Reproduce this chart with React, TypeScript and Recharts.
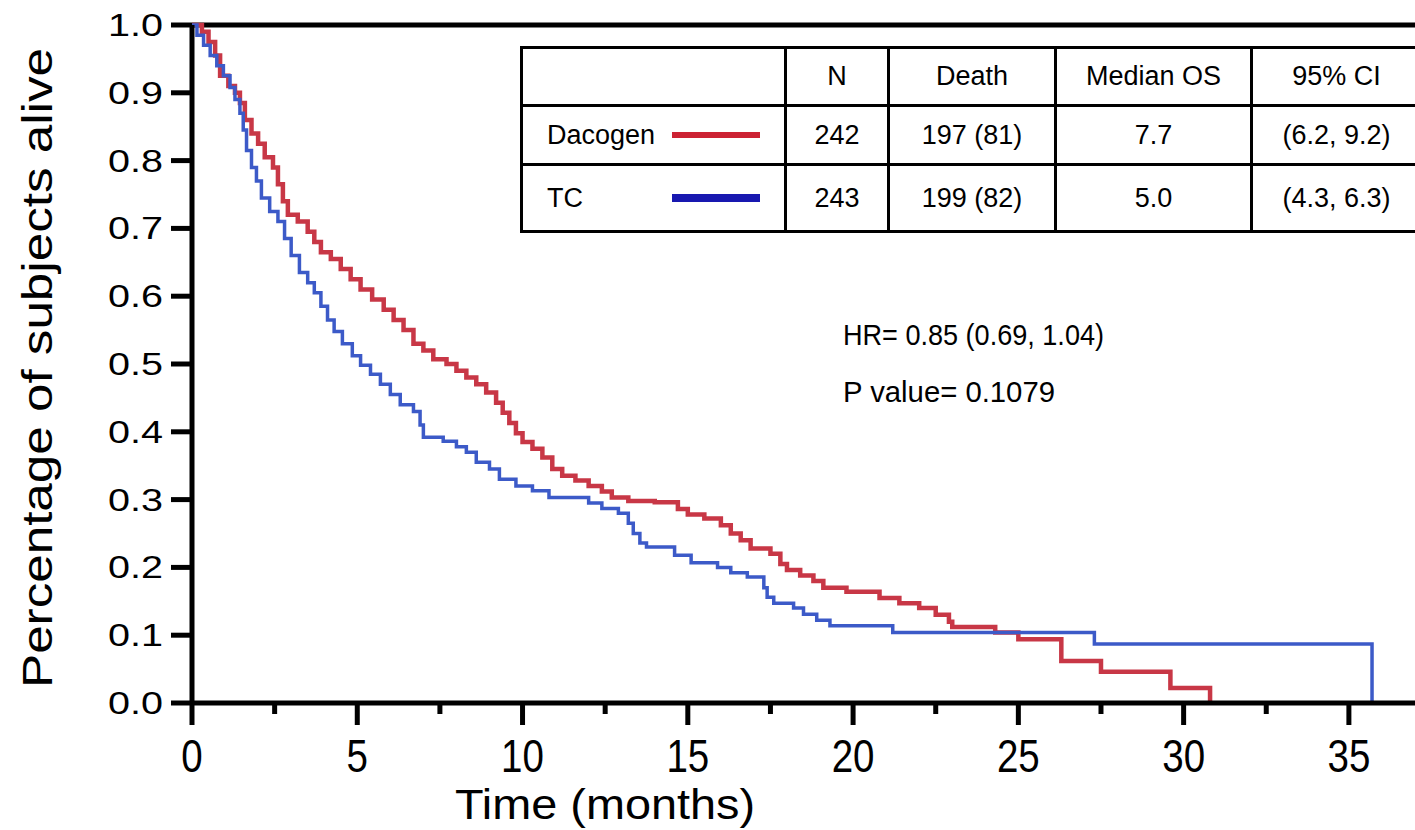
import React from 'react';
import { LineChart, Line, XAxis, YAxis, ReferenceLine } from 'recharts';

// Kaplan-Meier steps (months, fraction alive)
const dacogenTime = [0, 0.3, 0.5, 0.7, 0.85, 1.1, 1.3, 1.45, 1.6, 1.8, 2.0, 2.2, 2.45, 2.6, 2.75, 2.9, 3.2, 3.5, 3.7, 3.9, 4.2, 4.5, 4.8, 5.1, 5.45, 5.8, 6.1, 6.4, 6.7, 7.0, 7.3, 7.7, 8.0, 8.3, 8.6, 8.9, 9.2, 9.4, 9.6, 9.8, 10.0, 10.3, 10.6, 10.9, 11.2, 11.6, 12.0, 12.4, 12.7, 13.2, 14.0, 14.7, 15.0, 15.5, 16.0, 16.3, 16.6, 16.9, 17.5, 17.8, 18.0, 18.4, 18.8, 19.1, 19.8, 20.8, 21.4, 22.0, 22.5, 22.9, 23.0, 24.3, 25.0, 26.3, 27.5, 29.6, 30.8];
const dacogenSurv = [1.0, 0.99, 0.975, 0.955, 0.925, 0.91, 0.9, 0.885, 0.86, 0.84, 0.825, 0.805, 0.79, 0.765, 0.74, 0.72, 0.71, 0.695, 0.68, 0.665, 0.655, 0.64, 0.625, 0.61, 0.595, 0.58, 0.565, 0.55, 0.53, 0.52, 0.507, 0.5, 0.49, 0.48, 0.47, 0.458, 0.443, 0.428, 0.413, 0.398, 0.385, 0.375, 0.362, 0.345, 0.335, 0.328, 0.32, 0.312, 0.303, 0.298, 0.296, 0.286, 0.278, 0.272, 0.262, 0.25, 0.24, 0.228, 0.22, 0.205, 0.196, 0.188, 0.18, 0.17, 0.164, 0.155, 0.147, 0.14, 0.13, 0.12, 0.112, 0.104, 0.094, 0.062, 0.046, 0.022, 0.0];

const tcTime = [0, 0.15, 0.35, 0.55, 0.75, 0.95, 1.15, 1.3, 1.45, 1.55, 1.65, 1.8, 1.95, 2.1, 2.35, 2.6, 2.8, 3.0, 3.25, 3.5, 3.7, 3.9, 4.1, 4.3, 4.55, 4.85, 5.1, 5.4, 5.7, 6.0, 6.3, 6.7, 6.9, 7.0, 7.6, 8.0, 8.3, 8.6, 9.0, 9.3, 9.8, 10.3, 10.8, 12.0, 12.4, 12.9, 13.2, 13.35, 13.55, 13.75, 14.6, 15.1, 15.9, 16.3, 16.8, 17.3, 17.4, 17.6, 18.2, 18.5, 18.9, 19.3, 21.2, 27.3, 35.7];
const tcSurv = [1.0, 0.985, 0.97, 0.955, 0.94, 0.925, 0.908, 0.89, 0.87, 0.845, 0.815, 0.79, 0.77, 0.745, 0.725, 0.71, 0.685, 0.66, 0.635, 0.62, 0.605, 0.585, 0.565, 0.548, 0.53, 0.512, 0.498, 0.485, 0.47, 0.455, 0.44, 0.43, 0.41, 0.392, 0.386, 0.378, 0.37, 0.355, 0.345, 0.33, 0.32, 0.313, 0.303, 0.295, 0.287, 0.28, 0.265, 0.25, 0.236, 0.23, 0.218, 0.207, 0.2, 0.192, 0.186, 0.17, 0.156, 0.147, 0.14, 0.131, 0.122, 0.114, 0.104, 0.087, 0.0];

const xTicks = [0, 2.5, 5, 7.5, 10, 12.5, 15, 17.5, 20, 22.5, 25, 27.5, 30, 32.5, 35];
const yTicks = [0, 0.1, 0.2, 0.3, 0.4, 0.5, 0.6, 0.7, 0.8, 0.9, 1.0];

// summary table
const tableHeader = ['', 'N', 'Death', 'Median OS', '95% CI'];
const groups = ['Dacogen', 'TC'];
const subjects = ['242', '243'];
const deaths = ['197 (81)', '199 (82)'];
const medianOS = ['7.7', '5.0'];
const ci95 = ['(6.2, 9.2)', '(4.3, 6.3)'];
const groupColors = ['#cc2233', '#1818b0'];

const RED = '#c83746';
const BLUE = '#3c5ac8';
const FONT = '"Liberation Sans", Arial, sans-serif';

const dacogenData = dacogenTime.map((t, i) => ({ t, s: dacogenSurv[i] }));
const tcData = tcTime.map((t, i) => ({ t, s: tcSurv[i] }));

const XTick = (props: any) => {
  const { x, y, payload } = props;
  const major = payload.value % 5 === 0;
  return (
    <g>
      <line x1={x} x2={x} y1={y} y2={y + (major ? 22 : 11)} stroke="#000" strokeWidth={5} />
      {major && (
        <text transform={`translate(${x},${y + 69}) scale(0.82,1)`} textAnchor="middle" fontSize={47} fontFamily={FONT} fill="#000">
          {payload.value}
        </text>
      )}
    </g>
  );
};

const YTick = (props: any) => {
  const { x, y, payload } = props;
  return (
    <g>
      <line x1={x - 21} x2={x} y1={y} y2={y} stroke="#000" strokeWidth={5} />
      <text x={x - 29} y={y + 11} textAnchor="end" fontSize={31} fontFamily={FONT} fill="#000" textLength={55} lengthAdjust="spacingAndGlyphs">
        {payload.value.toFixed(1)}
      </text>
    </g>
  );
};

const cell: React.CSSProperties = { border: '3px solid #000', textAlign: 'center', padding: 0 };
const rowHeights = [58, 59, 67];
const colWidths = [264, 103, 167, 196, 170];

const App: React.FC = () => {
  const rows = groups.map((g, i) => [g, subjects[i], deaths[i], medianOS[i], ci95[i]]);
  return (
    <div style={{ position: 'absolute', left: 0, top: 0, width: 1415, height: 830, overflow: 'hidden', background: '#fff', fontFamily: FONT }}>
      <LineChart width={1415} height={830} margin={{ top: 25, right: 0, bottom: 0, left: 0 }}>
        <XAxis
          type="number"
          dataKey="t"
          domain={[0, 37]}
          ticks={xTicks}
          interval={0}
          allowDataOverflow
          height={127}
          tick={<XTick />}
          tickLine={false}
          tickSize={0}
          tickMargin={0}
          axisLine={{ stroke: '#000', strokeWidth: 5 }}
        />
        <YAxis
          type="number"
          domain={[0, 1]}
          ticks={yTicks}
          interval={0}
          width={192}
          tick={<YTick />}
          tickLine={false}
          tickSize={0}
          tickMargin={0}
          axisLine={{ stroke: '#000', strokeWidth: 5 }}
        />
        <ReferenceLine y={1} stroke="#000" strokeWidth={5} />
        <Line data={dacogenData} dataKey="s" type="stepAfter" stroke={RED} strokeWidth={4.5} dot={false} isAnimationActive={false} />
        <Line data={tcData} dataKey="s" type="stepAfter" stroke={BLUE} strokeWidth={3.5} dot={false} isAnimationActive={false} />
      </LineChart>

      <svg width={1415} height={830} style={{ position: 'absolute', left: 0, top: 0, pointerEvents: 'none' }}>
        <text transform="translate(52,688) rotate(-90)" fontSize={43} fontFamily={FONT} fill="#000" textLength={640} lengthAdjust="spacingAndGlyphs">
          Percentage of subjects alive
        </text>
        <text x={455} y={819} fontSize={43} fontFamily={FONT} fill="#000" textLength={300} lengthAdjust="spacingAndGlyphs">
          Time (months)
        </text>
        <text x={843} y={345} fontSize={30} fontFamily={FONT} fill="#000" textLength={261} lengthAdjust="spacingAndGlyphs">
          HR= 0.85 (0.69, 1.04)
        </text>
        <text x={843} y={402} fontSize={30} fontFamily={FONT} fill="#000" textLength={212} lengthAdjust="spacingAndGlyphs">
          P value= 0.1079
        </text>
      </svg>

      <table style={{ position: 'absolute', left: 520, top: 46, borderCollapse: 'collapse', tableLayout: 'fixed', width: colWidths.reduce((a, b) => a + b, 0), fontSize: 27, background: '#fff' }}>
        <colgroup>
          {colWidths.map((w, i) => <col key={i} style={{ width: w }} />)}
        </colgroup>
        <tbody>
          <tr style={{ height: rowHeights[0] }}>
            {tableHeader.map((h, i) => <td key={i} style={cell}>{h}</td>)}
          </tr>
          {rows.map((r, ri) => (
            <tr key={ri} style={{ height: rowHeights[ri + 1] }}>
              <td style={{ ...cell, textAlign: 'left' }}>
                <div style={{ display: 'flex', alignItems: 'center', justifyContent: 'space-between', paddingLeft: 24, paddingRight: 24 }}>
                  <span>{r[0]}</span>
                  <span style={{ display: 'inline-block', width: 88, height: ri === 0 ? 6 : 8, background: groupColors[ri] }} />
                </div>
              </td>
              {r.slice(1).map((v, ci) => <td key={ci} style={cell}>{v}</td>)}
            </tr>
          ))}
        </tbody>
      </table>
    </div>
  );
};

export default App;
